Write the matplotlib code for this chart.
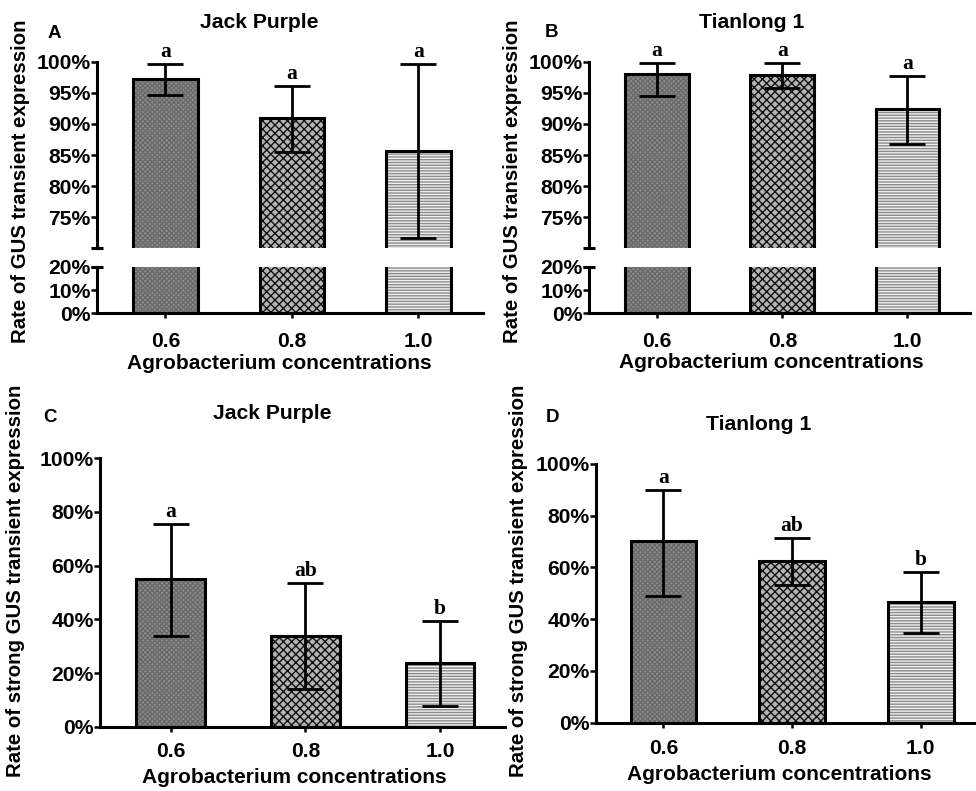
import numpy as np
import matplotlib
matplotlib.use('Agg')
import matplotlib.pyplot as plt

plt.rcParams['font.family'] = ['Liberation Sans', 'DejaVu Sans']
plt.rcParams['font.weight'] = 'bold'
plt.rcParams['hatch.linewidth'] = 1.0

W, H = 976, 791

conc = ['0.6', '0.8', '1.0']

# A: Jack Purple, GUS transient expression (%)
jack_gus = [97.2, 91.0, 85.6]
jack_gus_lo = [94.7, 85.5, 71.6]
jack_gus_hi = [99.6, 96.1, 99.7]
jack_gus_sig = ['a', 'a', 'a']

# B: Tianlong 1, GUS transient expression (%)
tian_gus = [98.0, 97.9, 92.4]
tian_gus_lo = [94.5, 95.8, 86.8]
tian_gus_hi = [99.8, 99.8, 97.7]
tian_gus_sig = ['a', 'a', 'a']

# C: Jack Purple, strong GUS transient expression (%)
jack_strong = [54.9, 33.8, 23.6]
jack_strong_lo = [33.9, 14.0, 7.7]
jack_strong_hi = [75.5, 53.7, 39.5]
jack_strong_sig = ['a', 'ab', 'b']

# D: Tianlong 1, strong GUS transient expression (%)
tian_strong = [70.2, 62.5, 46.8]
tian_strong_lo = [49.1, 53.2, 34.6]
tian_strong_hi = [90.0, 71.5, 58.1]
tian_strong_sig = ['a', 'ab', 'b']

fills = [
    dict(facecolor='#8c8c8c', edgecolor='#6a6a6a', hatch='xxxxxxx'),
    dict(facecolor='#b4b4b4', edgecolor='#111111', hatch='xxxx'),
    dict(facecolor='#efefef', edgecolor='#8c8c8c', hatch='------'),
]
FS = 15.2
LW = 2.2


def px_axes(fig, left, top, right, bottom):
    # axes placed by pixel box of the reference
    return fig.add_axes([left / W, 1 - bottom / H, (right - left) / W, (bottom - top) / H])


def style(ax, xlim, xpad):
    ax.set_xlim(*xlim)
    for s in ['top', 'right']:
        ax.spines[s].set_visible(False)
    for s in ['left', 'bottom']:
        ax.spines[s].set_linewidth(LW)
    ax.tick_params(axis='y', direction='out', length=4, width=1.8, pad=0.5, labelsize=FS)
    ax.tick_params(axis='x', direction='inout', length=7, width=1.8, pad=xpad, labelsize=FS)
    ax.set_xticks(range(len(conc)))
    ax.set_xticklabels(conc)


def draw_bars(ax, means, lo, hi, sig=None, width=0.51):
    x = np.arange(len(means))
    for i in range(len(means)):
        ax.bar(x[i], means[i], width, linewidth=0, zorder=2, **fills[i])
    ax.bar(x, means, width, facecolor='none', edgecolor='black', linewidth=LW, zorder=3)
    if sig is None:
        return
    m = np.array(means)
    yerr = [m - np.array(lo), np.array(hi) - m]
    ax.errorbar(x, m, yerr=yerr, fmt='none', ecolor='black', elinewidth=2,
                capsize=13, capthick=2, zorder=4)
    for xi, h, s in zip(x, hi, sig):
        ax.annotate(s, (xi, h), xytext=(0, 5), textcoords='offset points',
                    ha='center', va='baseline', fontsize=15.5, fontweight='bold',
                    family=['Liberation Serif', 'DejaVu Serif'], annotation_clip=False)


def broken_panel(fig, box, means, lo, hi, sig, xlim):
    left, right, top, brk_top, brk_bot, bottom = box
    up = px_axes(fig, left, top, right, brk_top)
    dn = px_axes(fig, left, brk_bot, right, bottom)
    draw_bars(up, means, lo, hi, sig)
    draw_bars(dn, means, lo, hi)
    style(up, xlim, 10)
    style(dn, xlim, 10)
    up.set_ylim(70, 100)
    up.set_yticks([75, 80, 85, 90, 95, 100])
    up.set_yticklabels([f'{v}%' for v in [75, 80, 85, 90, 95, 100]])
    up.spines['bottom'].set_visible(False)
    up.tick_params(axis='x', which='both', bottom=False, labelbottom=False)
    dn.set_ylim(0, 20)
    dn.set_yticks([0, 10, 20])
    dn.set_yticklabels(['0%', '10%', '20%'])
    up.plot(0, 70, marker='_', ms=9, mew=LW, color='black',
            transform=up.get_yaxis_transform(), clip_on=False)
    dn.plot(0, 20, marker='_', ms=9, mew=LW, color='black',
            transform=dn.get_yaxis_transform(), clip_on=False)


def plain_panel(fig, box, means, lo, hi, sig, xlim, xpad):
    left, right, top, bottom = box
    ax = px_axes(fig, left, top, right, bottom)
    draw_bars(ax, means, lo, hi, sig)
    style(ax, xlim, xpad)
    ax.set_ylim(0, 100)
    ax.set_yticks(range(0, 101, 20))
    ax.set_yticklabels([f'{v}%' for v in range(0, 101, 20)])


def ftext(x, y, s, **kw):
    fig.text(x / W, 1 - y / H, s, **kw)


fig = plt.figure(figsize=(W / 100, H / 100), dpi=100)

broken_panel(fig, (97, 483, 61.7, 248.3, 266.7, 313.3), jack_gus, jack_gus_lo, jack_gus_hi,
             jack_gus_sig, (-0.54, 2.51))
broken_panel(fig, (589, 970, 61.7, 248.3, 266.7, 313.3), tian_gus, tian_gus_lo, tian_gus_hi,
             tian_gus_sig, (-0.544, 2.50))
plain_panel(fig, (100, 505, 458.3, 726.7), jack_strong, jack_strong_lo, jack_strong_hi,
            jack_strong_sig, (-0.526, 2.483), 7.5)
plain_panel(fig, (596, 980, 464, 722.7), tian_strong, tian_strong_lo, tian_strong_hi,
            tian_strong_sig, (-0.524, 2.46), 8)

# titles, panel letters, axis labels
for x, y, s in [(259, 28.3, 'Jack Purple'), (752, 28.3, 'Tianlong 1'),
                (272, 419.3, 'Jack Purple'), (759, 430, 'Tianlong 1')]:
    ftext(x, y, s, ha='center', va='baseline', fontsize=FS, fontweight='bold')
for x, y, s in [(48, 38.3, 'A'), (545, 36.7, 'B'), (43, 421.7, 'C'), (546, 421.7, 'D')]:
    ftext(x, y, s, ha='left', va='baseline', fontsize=13.5, fontweight='bold')
for x, y in [(279, 369), (771, 368), (294, 782.7), (779, 780)]:
    ftext(x, y, 'Agrobacterium concentrations', ha='center', va='baseline',
          fontsize=15, fontweight='bold')
for x, y, s in [(21, 181, 'Rate of GUS transient expression'),
                (513, 181, 'Rate of GUS transient expression'),
                (16, 581, 'Rate of strong GUS transient expression'),
                (519, 581, 'Rate of strong GUS transient expression')]:
    ftext(x, y, s, ha='center', va='center', rotation=90, fontsize=14.7, fontweight='bold')

fig.savefig('out.png', dpi=100)
